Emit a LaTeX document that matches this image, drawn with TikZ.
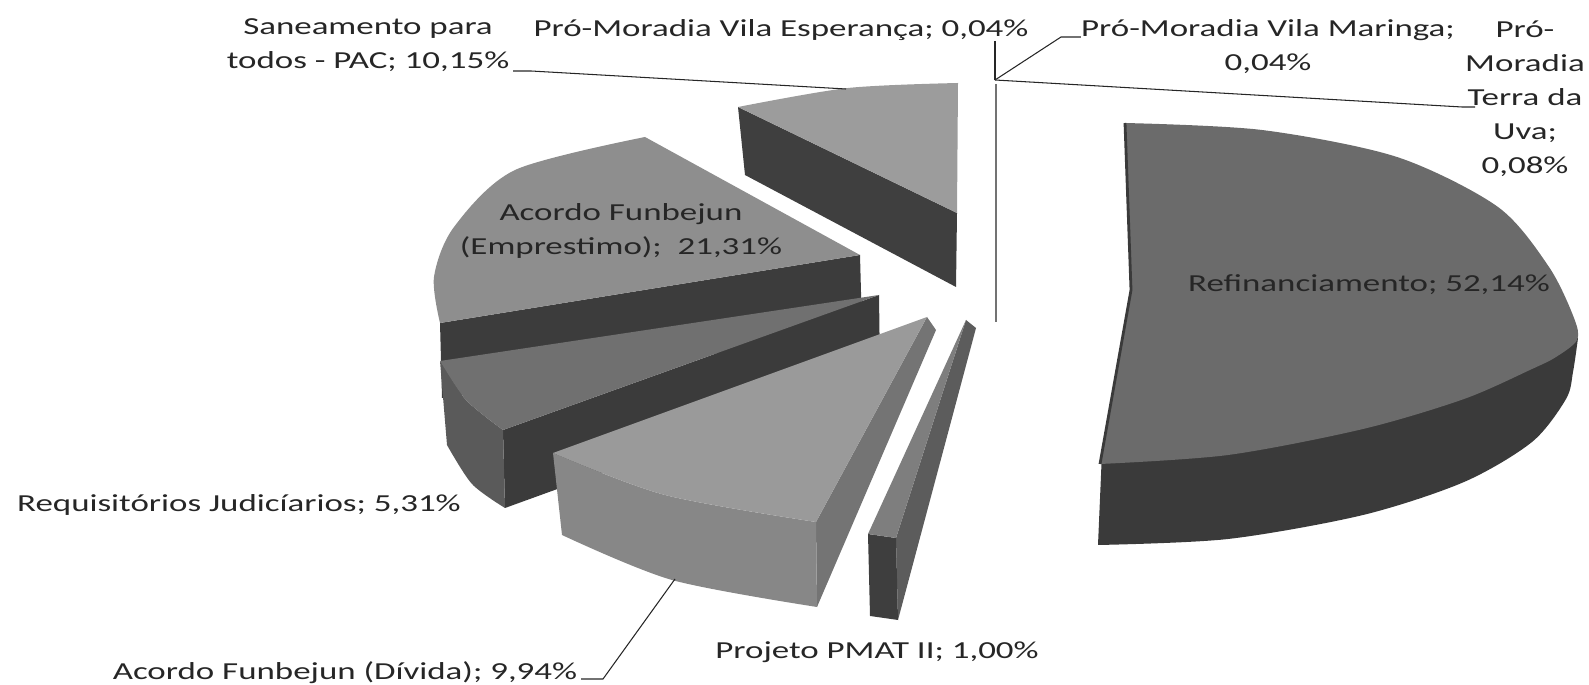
\documentclass[tikz,border=0pt]{standalone}
\usepackage{fontspec}
\newfontfamily\chartfont[FakeStretch=1.43]{Carlito}
\usetikzlibrary{positioning}
\definecolor{ink}{HTML}{262626}
\definecolor{refTop}{HTML}{6B6B6B}
\definecolor{refWall}{HTML}{3A3A3A}
\definecolor{pmatTop}{HTML}{7E7E7E}
\definecolor{pmatSide}{HTML}{5C5C5C}
\definecolor{pmatWall}{HTML}{3E3E3E}
\definecolor{divTop}{HTML}{9A9A9A}
\definecolor{divWall}{HTML}{878787}
\definecolor{divSide}{HTML}{747474}
\definecolor{reqTop}{HTML}{707070}
\definecolor{reqWall}{HTML}{5A5A5A}
\definecolor{reqSide}{HTML}{3B3B3B}
\definecolor{empTop}{HTML}{8E8E8E}
\definecolor{empSide}{HTML}{3C3C3C}
\definecolor{sanTop}{HTML}{9C9C9C}
\definecolor{sanSide}{HTML}{3F3F3F}

\begin{document}
\begin{tikzpicture}[x=0.02cm,y=-0.02cm,
  lbl/.style={font=\chartfont\fontsize{13.9}{19.4}\selectfont,text=ink,inner sep=0pt,align=center},
  leader/.style={draw=ink,line width=0.6pt}]
\useasboundingbox (0,0) rectangle (1589,685);

% Saneamento para todos - PAC
\fill[sanSide] (738,107) -- (957,213) -- (956,287) -- (745,175) -- cycle;
\fill[sanTop] plot[smooth] coordinates {(738,107) (848,88) (958,83)} -- (957,213) -- cycle;
% Pro-Moradia slivers
\draw[black!55,line width=0.9pt] (996,84) -- (996,322);
% Acordo Funbejun (Emprestimo)
\fill[empSide] (440,323) -- (860,255) -- (862,330) -- (442,398) -- cycle;
\fill[empTop] (860,255) -- plot[smooth] coordinates {(645,137) (515,170) (454,227) (434,277) (440,323)} -- cycle;
% Requisitorios Judiciarios
\fill[reqSide] (879,295) -- (503,430) -- (505,508) -- (880,372) -- cycle;
\fill[reqWall] plot[smooth] coordinates {(440,361) (466,400) (503,430)} -- (505,508) -- plot[smooth] coordinates {(505,508) (472,484) (447,445)} -- cycle;
\fill[reqTop] (879,295) -- plot[smooth] coordinates {(440,361) (466,400) (503,430)} -- cycle;
% Acordo Funbejun (Divida)
\fill[divSide] (927,317) -- (816,522) -- (817,607) -- (936,330) -- cycle;
\fill[divWall] plot[smooth] coordinates {(553,453) (665,495) (816,522)} -- (817,607) -- plot[smooth] coordinates {(817,607) (672,580) (562,535)} -- cycle;
\fill[divTop] (927,317) -- plot[smooth] coordinates {(553,453) (665,495) (816,522)} -- cycle;
% Projeto PMAT II
\fill[pmatSide] (966,320) -- (896,538) -- (898,620) -- (976,328) -- cycle;
\fill[pmatWall] (868,534) -- (896,538) -- (898,620) -- (870,616) -- cycle;
\fill[pmatTop] (966,320) -- (868,534) -- (896,538) -- cycle;
% Refinanciamento
\fill[refWall] plot[smooth] coordinates {(1102,452) (1228,440) (1363,414) (1464,384) (1532,354) (1568,330)}
  -- plot[smooth] coordinates {(1578,338) (1573,372) (1566,399) (1532,442) (1464,482) (1363,515) (1228,539) (1098,545)} -- cycle;
\fill[refTop] (1100,464) -- (1131,290) -- plot[smooth] coordinates {(1125,123) (1262,130) (1397,157) (1498,207) (1549,267) (1574,318) (1577,340) (1556,357) (1532,369) (1464,399) (1363,429) (1228,455) (1100,464)};
\draw[refWall,line width=1.6pt] (1125,123) -- (1131,290) -- (1100,464);

% labels
\node[lbl] (sanLbl) at (368,45) {Saneamento para\\todos - PAC; 10,15\%};
\node[lbl] (espLbl) at (781,30) {Pró-Moradia Vila Esperança; 0,04\%};
\node[lbl] (marLbl) at (1268,47) {Pró-Moradia Vila Maringa;\\0,04\%};
\node[lbl] (terLbl) at (1525,99) {Pró-\\Moradia\\Terra da\\Uva;\\0,08\%};
\node[lbl] (empLbl) at (621,231) {Acordo Funbejun\\(Emprestimo);\ \ 21,31\%};
\node[lbl] (refLbl) at (1369,285) {Refinanciamento; 52,14\%};
\node[lbl] (reqLbl) at (239,505) {Requisitórios Judicíarios; 5,31\%};
\node[lbl] (pmatLbl) at (877,652) {Projeto PMAT II; 1,00\%};
\node[lbl] (divLbl) at (345,673) {Acordo Funbejun (Dívida); 9,94\%};

% leader lines
\coordinate (hub) at (995,80);
\coordinate (sanKnee) at (531,71);
\coordinate (sanTip) at (846,89);
\coordinate (marKnee) at (1061,37);
\coordinate (terKnee) at (1462,107);
\coordinate (terEnd) at (1475,107);
\coordinate (divKnee) at (603,679);
\coordinate (divTip) at (675,579);
\draw[leader] ([xshift=2pt]sanLbl.east |- sanKnee) -- (sanKnee) -- (sanTip);
\draw[leader] (espLbl.south -| hub) -- (hub);
\draw[leader] (hub) -- (marKnee) -- (marKnee -| marLbl.west);
\draw[leader] (hub) -- (terKnee) -- (terEnd);
\draw[leader] ([xshift=2pt]divLbl.east |- divKnee) -- (divKnee) -- (divTip);
\end{tikzpicture}
\end{document}
